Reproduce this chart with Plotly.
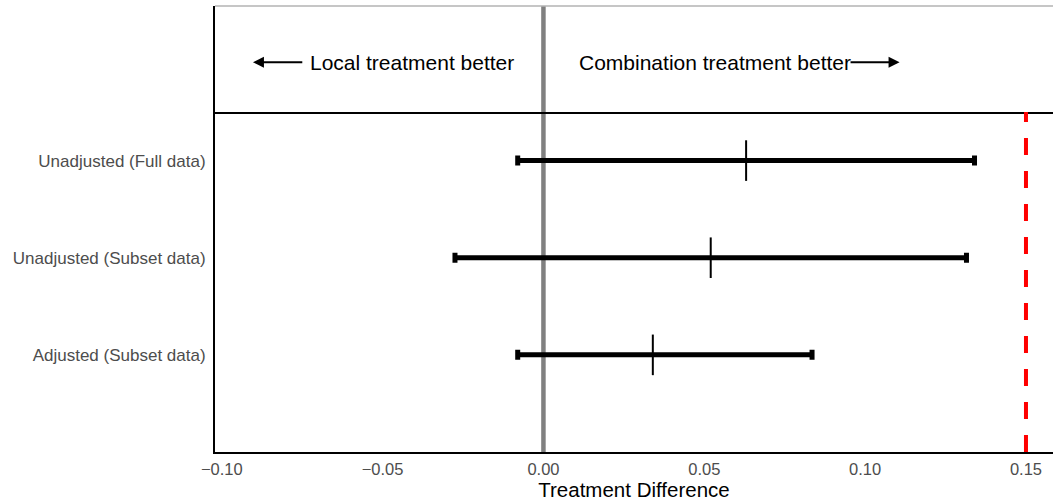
import plotly.graph_objects as go

# ---- data ----
labels = ["Unadjusted (Full data)", "Unadjusted (Subset data)", "Adjusted (Subset data)"]
estimate = [0.063, 0.052, 0.034]
lower = [-0.008, -0.0275, -0.008]
upper = [0.134, 0.1315, 0.0835]
x_ticks = [-0.10, -0.05, 0.00, 0.05, 0.10, 0.15]
x_tick_labels = ["\u22120.10", "\u22120.05", "0.00", "0.05", "0.10", "0.15"]
null_value = 0.0
margin_value = 0.15
ypos = [3, 2, 1]

FONT = "Liberation Sans, Arial, sans-serif"

fig = go.Figure()
fig.add_trace(go.Scatter(
    x=estimate, y=ypos, mode="markers",
    marker=dict(symbol="line-ns", size=29, color="black",
                line=dict(color="black", width=2)),
    error_x=dict(type="data", symmetric=False,
                 array=[u - e for u, e in zip(upper, estimate)],
                 arrayminus=[e - l for e, l in zip(estimate, lower)],
                 color="black", thickness=5, width=5),
    showlegend=False, hoverinfo="skip", cliponaxis=False,
))

xr = [-0.1021, 0.1584]
split = 0.7623

fig.update_layout(
    width=1053, height=501,
    margin=dict(l=215, r=0, t=6, b=49),
    paper_bgcolor="white", plot_bgcolor="white",
    font=dict(family=FONT),
    xaxis=dict(range=xr, domain=[0, 1], anchor="y",
               tickvals=x_ticks, ticktext=x_tick_labels,
               tickfont=dict(size=16.5, color="#4d4d4d", family=FONT),
               ticks="", ticklabelstandoff=1,
               showline=True, linecolor="black", linewidth=2,
               showgrid=False, zeroline=False,
               title=dict(text="Treatment Difference", font=dict(size=20.5, color="black", family=FONT), standoff=9)),
    yaxis=dict(domain=[0, split], range=[0, 3.5], anchor="x",
               tickvals=ypos, ticktext=labels,
               tickfont=dict(size=17, color="#4d4d4d", family=FONT),
               ticks="", ticklabelstandoff=4,
               showline=True, linecolor="black", linewidth=2,
               showgrid=False, zeroline=False),
    xaxis2=dict(range=xr, domain=[0, 1], anchor="y2", matches="x",
                showticklabels=False, ticks="",
                showline=True, linecolor="black", linewidth=2,
                showgrid=False, zeroline=False),
    yaxis2=dict(domain=[split, 1], range=[0, 1], anchor="x2",
                showticklabels=False, ticks="",
                showline=True, linecolor="black", linewidth=2,
                showgrid=False, zeroline=False),
)

# top light border of upper panel
fig.add_shape(type="line", xref="paper", yref="paper", x0=0, x1=1, y0=1, y1=1,
              line=dict(color="#b3b3b3", width=1.5))
# null line through both panels
fig.add_shape(type="line", xref="x", yref="paper", x0=null_value, x1=null_value, y0=0, y1=1,
              line=dict(color="#808080", width=4.5), layer="below")
# margin line
fig.add_shape(type="line", xref="x", yref="y", x0=margin_value, x1=margin_value, y0=0, y1=3.5,
              line=dict(color="#ff0000", width=4, dash="17px,16px"))

ty = 0.47
fig.add_annotation(xref="x2", yref="y2", x=-0.0732, y=ty, text="Local treatment better",
                   showarrow=False, xanchor="left", yanchor="middle",
                   font=dict(size=21, color="black", family=FONT))
fig.add_annotation(xref="x2", yref="y2", x=-0.0903, y=ty, ax=-0.0745, ay=ty,
                   axref="x2", ayref="y2", text="", showarrow=True,
                   arrowhead=2, arrowsize=1.1, arrowwidth=2, arrowcolor="black")
fig.add_annotation(xref="x2", yref="y2", x=0.01047, y=ty, text="Combination treatment better",
                   showarrow=False, xanchor="left", yanchor="middle",
                   font=dict(size=21, color="black", family=FONT))
fig.add_annotation(xref="x2", yref="y2", x=0.1107, y=ty, ax=0.0950, ay=ty,
                   axref="x2", ayref="y2", text="", showarrow=True,
                   arrowhead=2, arrowsize=1.1, arrowwidth=2, arrowcolor="black")

fig.write_html("out.html", config={"displayModeBar": False},
               post_script="document.body.style.margin='0px';document.body.style.overflow='hidden';")
